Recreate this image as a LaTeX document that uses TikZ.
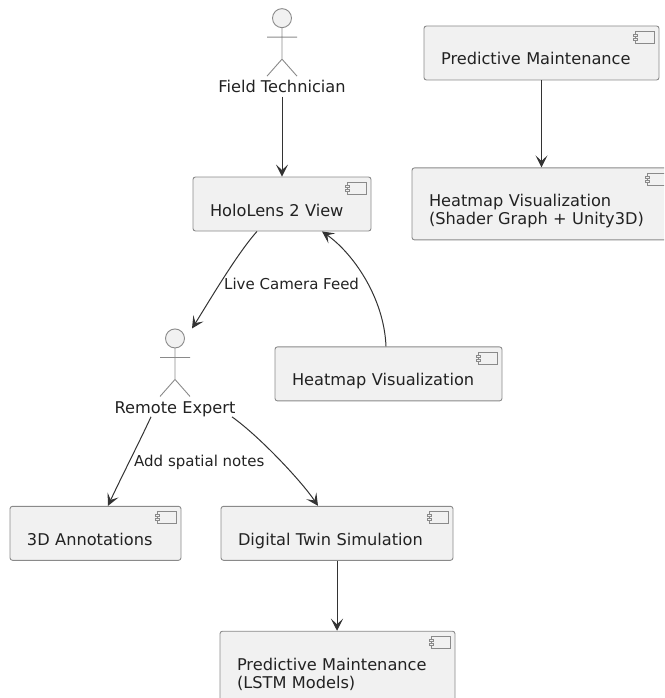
\documentclass[tikz,border=0pt]{standalone}
\usepackage{fontspec}
\setmainfont{DejaVu Sans}
\usepackage{xcolor}
\usetikzlibrary{positioning,arrows.meta}
\definecolor{fundo}{HTML}{F1F1F1}
\definecolor{borda}{HTML}{8A8A8A}
\definecolor{linha}{HTML}{333333}
\definecolor{texto}{HTML}{222222}
\tikzstyle{componente} = [rectangle, rounded corners=2.5pt, draw=borda, fill=fundo, line width=0.9pt, align=left, inner xsep=17pt, inner ysep=0pt, text=texto, font=\fontsize{16.2}{18}\selectfont, execute at begin node={\rule{0pt}{39pt}}, execute at end node={\rule[-15pt]{0pt}{15pt}}]
\tikzstyle{ator} = [inner sep=2pt, text=texto, font=\fontsize{16.2}{18}\selectfont, text height=12.5pt, text depth=1.5pt]
\tikzstyle{rotulo} = [inner sep=0pt, text=texto, font=\fontsize{15}{18}\selectfont, anchor=west]
\tikzstyle{seta} = [color=linha, line width=1pt, -{Stealth[length=12pt,width=12pt,inset=5.5pt]}]
\tikzset{
  pics/boneco/.style={code={
    \draw[borda, fill=fundo, line width=0.9pt] (0,60) circle (9.5pt);
    \draw[borda, line width=0.9pt] (0,50.5) -- (0,19) (-15,41) -- (15,41) (-15,2) -- (0,19) -- (15,2);
  }},
  pics/icone/.style={code={
    \draw[borda, fill=fundo, line width=0.8pt] (-24,-6) rectangle (-5,-18);
    \draw[borda, fill=fundo, line width=0.8pt] (-26,-9) rectangle (-22,-11) (-26,-13) rectangle (-22,-15);
  }}
}
\begin{document}
\begin{tikzpicture}[x=1pt,y=1pt]
    \useasboundingbox (0,-698) rectangle (664,0);
    \clip (0,-698) rectangle (664,0);
    % Coluna principal
    \node (hololens) [componente, text width=144pt] at (282,-204) {HoloLens 2 View};
    \node (tecnico) [ator, above=80pt of hololens] {Field Technician};
    \node (especialista) [ator, below=167pt of hololens, xshift=-107pt] {Remote Expert};
    \node (heatmap) [componente, text width=193pt, below=115pt of hololens, xshift=106.5pt] {Heatmap Visualization};
    \node (anotacoes) [componente, text width=137pt, below=89pt of especialista, xshift=-79.5pt] {3D Annotations};
    \node (gemeo) [componente, text width=198pt, below=89pt of especialista, xshift=162pt] {Digital Twin Simulation};
    \node (lstm) [componente, text width=201pt, below=70pt of gemeo, xshift=0.5pt] {Predictive Maintenance\\(LSTM Models)};
    % Coluna da direita
    \node (manutencao) [componente, text width=201pt] at (541.5,-53) {Predictive Maintenance};
    \node (shader) [componente, text width=225pt, below=87pt of manutencao] {Heatmap Visualization\\(Shader Graph + Unity3D)};
    % Icones e bonecos
    \foreach \caixa in {hololens,heatmap,anotacoes,gemeo,lstm,manutencao,shader}
        \pic at (\caixa.north east) {icone};
    \pic at (tecnico.north) {boneco};
    \pic at (especialista.north) {boneco};
    % Conexoes
    \coordinate (chegada) at ([xshift=17pt,yshift=70pt]especialista.north);
    \draw [seta] (tecnico.south) -- (hololens.north);
    \draw [seta] ([xshift=-25pt]hololens.south) .. controls +(-20,-22) and +(14,22) .. (chegada);
    \draw [seta] ([xshift=-2.5pt]heatmap.north) .. controls +(-2,50) and +(30,-21) .. ([xshift=40pt]hololens.south);
    \draw [seta] ([xshift=-24pt]especialista.south) .. controls +(-14,-30) and +(12,26) .. ([xshift=12.5pt]anotacoes.north);
    \draw [seta] ([xshift=57pt]especialista.south) .. controls +(28,-20) and +(-16,24) .. ([xshift=-19pt]gemeo.north);
    \draw [seta] (gemeo.south) -- ([xshift=-0.5pt]lstm.north);
    \draw [seta] (manutencao.south) -- (shader.north);
    % Rotulos
    \node (rotuloa) [rotulo] at (224,-284) {Live Camera Feed};
    \node (rotulob) [rotulo] at (134,-462) {Add spatial notes};
\end{tikzpicture}
\end{document}
